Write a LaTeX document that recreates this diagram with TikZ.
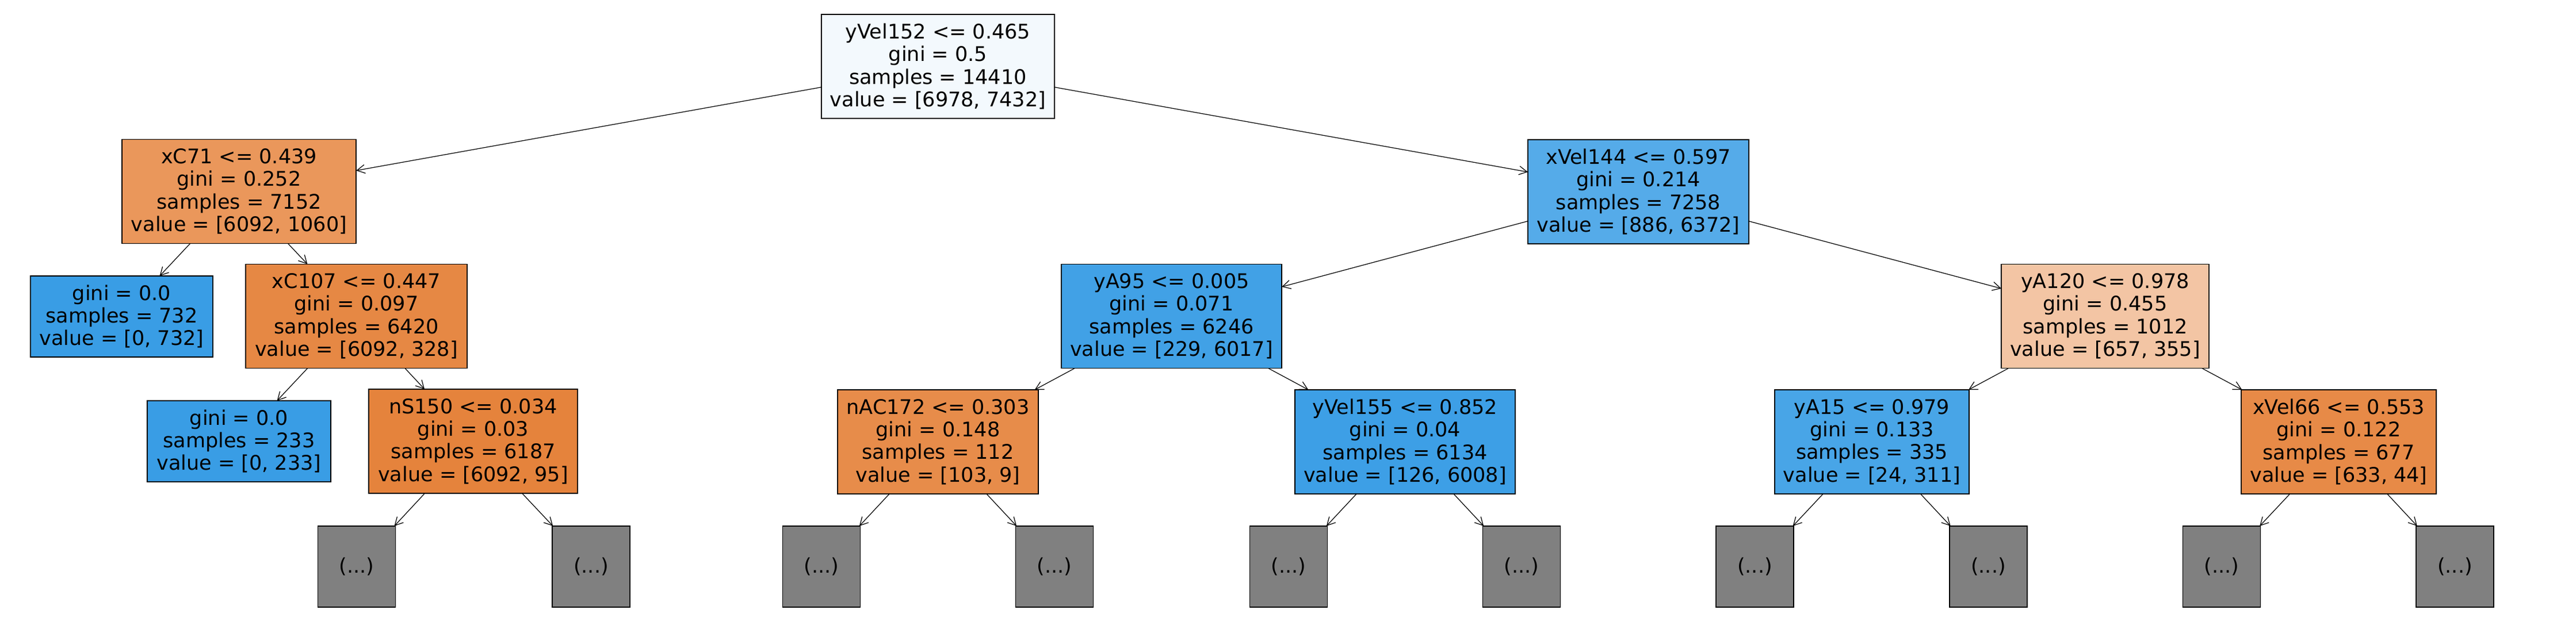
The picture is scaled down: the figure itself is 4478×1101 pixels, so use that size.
\documentclass[tikz,border=0pt]{standalone}
\usepackage{fontspec}
\setmainfont{DejaVu Sans}
\usetikzlibrary{arrows.meta}
\definecolor{cRoot}{RGB}{243,249,253}
\definecolor{cXCa}{RGB}{234,151,91}
\definecolor{cBlue}{RGB}{57,157,229}
\definecolor{cXCb}{RGB}{230,136,68}
\definecolor{cNS}{RGB}{229,131,60}
\definecolor{cXV}{RGB}{85,171,233}
\definecolor{cYA95}{RGB}{65,161,230}
\definecolor{cNAC}{RGB}{231,140,74}
\definecolor{cYV}{RGB}{61,159,230}
\definecolor{cYA120}{RGB}{243,197,164}
\definecolor{cYA15}{RGB}{72,165,231}
\definecolor{cXV66}{RGB}{231,138,71}
\definecolor{cGray}{RGB}{128,128,128}
\begin{document}
\begin{tikzpicture}[x=0.01cm,y=-0.01cm,
  box/.style={draw=black,line width=0.4pt,inner sep=0pt,outer sep=0pt,align=center,
    font=\fontsize{9.96}{11.2}\selectfont},
  split/.style={box,minimum height=1.81cm},
  leaf/.style={box,minimum height=1.41cm},
  more/.style={box,fill=cGray,minimum width=1.35cm,minimum height=1.41cm},
  edge/.style={draw=black,line width=0.35pt,-{Straight Barb[length=0.14cm,width=0.15cm]}}]
\useasboundingbox (0,0) rectangle (4478,1101);
% level 0
\node[split,fill=cRoot,minimum width=4.05cm] (root) at (1630.5,115.5)
  {yVel152 <= 0.465\\gini = 0.5\\samples = 14410\\value = [6978, 7432]};
% level 1
\node[split,fill=cXCa,minimum width=4.07cm] (xc71) at (415.5,333)
  {xC71 <= 0.439\\gini = 0.252\\samples = 7152\\value = [6092, 1060]};
\node[split,fill=cXV,minimum width=3.84cm] (xv144) at (2848,333.5)
  {xVel144 <= 0.597\\gini = 0.214\\samples = 7258\\value = [886, 6372]};
% level 2
\node[leaf,fill=cBlue,minimum width=3.17cm] (l732) at (211.5,550.5)
  {gini = 0.0\\samples = 732\\value = [0, 732]};
\node[split,fill=cXCb,minimum width=3.85cm] (xc107) at (619.5,550)
  {xC107 <= 0.447\\gini = 0.097\\samples = 6420\\value = [6092, 328]};
\node[split,fill=cYA95,minimum width=3.83cm] (ya95) at (2036.5,550)
  {yA95 <= 0.005\\gini = 0.071\\samples = 6246\\value = [229, 6017]};
\node[split,fill=cYA120,minimum width=3.61cm] (ya120) at (3659.5,550)
  {yA120 <= 0.978\\gini = 0.455\\samples = 1012\\value = [657, 355]};
% level 3
\node[leaf,fill=cBlue,minimum width=3.19cm] (l233) at (415.5,767.5)
  {gini = 0.0\\samples = 233\\value = [0, 233]};
\node[split,fill=cNS,minimum width=3.63cm] (ns150) at (822.5,767.5)
  {nS150 <= 0.034\\gini = 0.03\\samples = 6187\\value = [6092, 95]};
\node[split,fill=cNAC,minimum width=3.49cm] (nac172) at (1630.5,768.5)
  {nAC172 <= 0.303\\gini = 0.148\\samples = 112\\value = [103, 9]};
\node[split,fill=cYV,minimum width=3.83cm] (yv155) at (2442.5,768.5)
  {yVel155 <= 0.852\\gini = 0.04\\samples = 6134\\value = [126, 6008]};
\node[split,fill=cYA15,minimum width=3.38cm] (ya15) at (3254,768.5)
  {yA15 <= 0.979\\gini = 0.133\\samples = 335\\value = [24, 311]};
\node[split,fill=cXV66,minimum width=3.39cm] (xv66) at (4065.5,768.5)
  {xVel66 <= 0.553\\gini = 0.122\\samples = 677\\value = [633, 44]};
% level 4
\node[more] (g1) at (620,985.5) {(...)};
\node[more] (g2) at (1027.5,985.5) {(...)};
\node[more] (g3) at (1428,985.5) {(...)};
\node[more] (g4) at (1833,985.5) {(...)};
\node[more] (g5) at (2240,985.5) {(...)};
\node[more] (g6) at (2645,985.5) {(...)};
\node[more] (g7) at (3050.5,985.5) {(...)};
\node[more] (g8) at (3456.5,985.5) {(...)};
\node[more] (g9) at (3862,985.5) {(...)};
\node[more] (g10) at (4267.5,985.5) {(...)};
% edges
\draw[edge] (root) -- (xc71);
\draw[edge] (root) -- (xv144);
\draw[edge] (xc71) -- (l732);
\draw[edge] (xc71) -- (xc107);
\draw[edge] (xc107) -- (l233);
\draw[edge] (xc107) -- (ns150);
\draw[edge] (ns150) -- (g1);
\draw[edge] (ns150) -- (g2);
\draw[edge] (xv144) -- (ya95);
\draw[edge] (xv144) -- (ya120);
\draw[edge] (ya95) -- (nac172);
\draw[edge] (ya95) -- (yv155);
\draw[edge] (nac172) -- (g3);
\draw[edge] (nac172) -- (g4);
\draw[edge] (yv155) -- (g5);
\draw[edge] (yv155) -- (g6);
\draw[edge] (ya120) -- (ya15);
\draw[edge] (ya120) -- (xv66);
\draw[edge] (ya15) -- (g7);
\draw[edge] (ya15) -- (g8);
\draw[edge] (xv66) -- (g9);
\draw[edge] (xv66) -- (g10);
\end{tikzpicture}
\end{document}
